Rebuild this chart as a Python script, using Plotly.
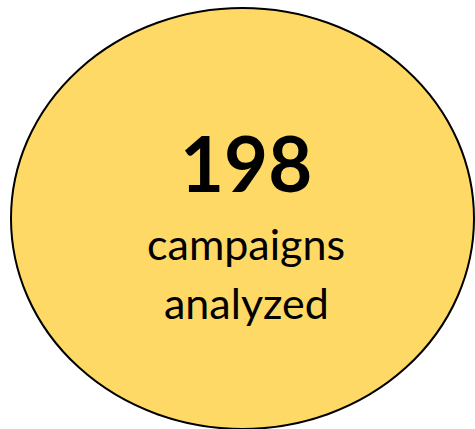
import plotly.graph_objects as go

# valores del gráfico
total_campanas = [198]
etiquetas = ['campaigns', 'analyzed']

W, H = 475, 429

fig = go.Figure()

# elipse amarilla de fondo
fig.add_shape(type='circle', xref='x', yref='y',
              x0=11, x1=474, y0=8, y1=429,
              fillcolor='#FFD966', line=dict(color='black', width=2),
              layer='below')

# número grande
fig.add_annotation(x=246, y=162, xref='x', yref='y',
                   text=f"<b>{total_campanas[0]}</b>", showarrow=False,
                   font=dict(family='Lato', size=76, color='black'),
                   xanchor='center', yanchor='middle')

# texto debajo
for i, txt in enumerate(etiquetas):
    fig.add_annotation(x=246, y=243 + i * 59, xref='x', yref='y',
                       text=txt, showarrow=False,
                       font=dict(family='Lato', size=43, color='black'),
                       xanchor='center', yanchor='middle')

fig.update_layout(
    width=W, height=H,
    margin=dict(l=0, r=0, t=0, b=0),
    paper_bgcolor='white', plot_bgcolor='white',
    xaxis=dict(range=[0, W], visible=False, fixedrange=True),
    yaxis=dict(range=[H, 0], visible=False, fixedrange=True),
    showlegend=False
)

fig.write_html("out.html", config={'displayModeBar': False},
               post_script="document.body.style.margin='0';")
